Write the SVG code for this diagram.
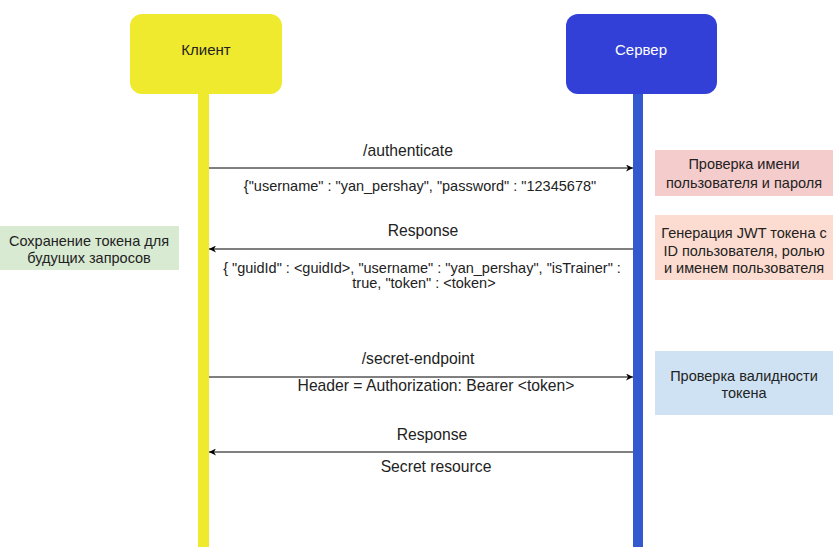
<svg xmlns="http://www.w3.org/2000/svg" width="836" height="550" viewBox="0 0 836 550">
<defs>
<marker id="ah" viewBox="0 0 10 10" refX="10" refY="5" markerWidth="7" markerHeight="7" markerUnits="userSpaceOnUse" orient="auto">
<path d="M0,0 L10,5 L0,10 L3,5 Z" fill="#000"/>
</marker>
</defs>
<style>
text{font-family:"Liberation Sans",Arial,sans-serif;font-size:14.5px;fill:#222;text-anchor:middle}
.msg{stroke:#000;stroke-width:1;fill:none;marker-end:url(#ah)}
.lbl{font-size:15.7px}
</style>
<rect width="836" height="550" fill="#fff"/>
<g id="client">
<rect x="198" y="90" width="11" height="457" fill="#f0ea2e"/>
<rect x="130" y="14" width="152" height="80" rx="12" fill="#f0ea2e"/>
<text x="206" y="55" style="font-size:15px">Клиент</text>
</g>
<g id="server">
<rect x="633" y="90" width="10" height="457" fill="#3358cf"/>
<rect x="566" y="14" width="151" height="80" rx="12" fill="#3340d8"/>
<text x="641" y="55" style="font-size:15px;fill:#fff">Сервер</text>
</g>
<g id="connectors">
<line class="msg" x1="209" y1="168" x2="633" y2="168"/>
<line class="msg" x1="633" y1="249" x2="209" y2="249"/>
<line class="msg" x1="209" y1="377" x2="633" y2="377"/>
<line class="msg" x1="633" y1="452" x2="209" y2="452"/>
</g>
<g id="labels">
<text class="lbl" x="408" y="156">/authenticate</text>
<text x="420" y="191">{"username" : "yan_pershay", "password" : "12345678"</text>
<text class="lbl" x="423" y="236">Response</text>
<text x="422" y="273">{ "guidId" : &lt;guidId&gt;, "username" : "yan_pershay", "isTrainer" :</text>
<text x="424" y="288">true, "token" : &lt;token&gt;</text>
<text class="lbl" x="418" y="364">/secret-endpoint</text>
<text class="lbl" x="436" y="391">Header = Authorization: Bearer &lt;token&gt;</text>
<text class="lbl" x="432" y="440">Response</text>
<text class="lbl" x="436" y="472">Secret resource</text>
</g>
<g id="check-credentials">
<rect x="655" y="150" width="178" height="46" fill="#f4cccc"/>
<text x="744" y="169">Проверка имени</text>
<text x="744" y="188">пользователя и пароля</text>
</g>
<g id="generate-jwt">
<rect x="655" y="215" width="178" height="65" fill="#fcdcd0"/>
<text x="744" y="238">Генерация JWT токена с</text>
<text x="744" y="256">ID пользователя, ролью</text>
<text x="744" y="273">и именем пользователя</text>
</g>
<g id="save-token">
<rect x="0" y="226" width="179" height="44" fill="#d9ead3"/>
<text x="89" y="246">Сохранение токена для</text>
<text x="89" y="263">будущих запросов</text>
</g>
<g id="validate-token">
<rect x="655" y="351" width="178" height="64" fill="#cfe2f3"/>
<text x="744" y="381">Проверка валидности</text>
<text x="744" y="398">токена</text>
</g>
</svg>
